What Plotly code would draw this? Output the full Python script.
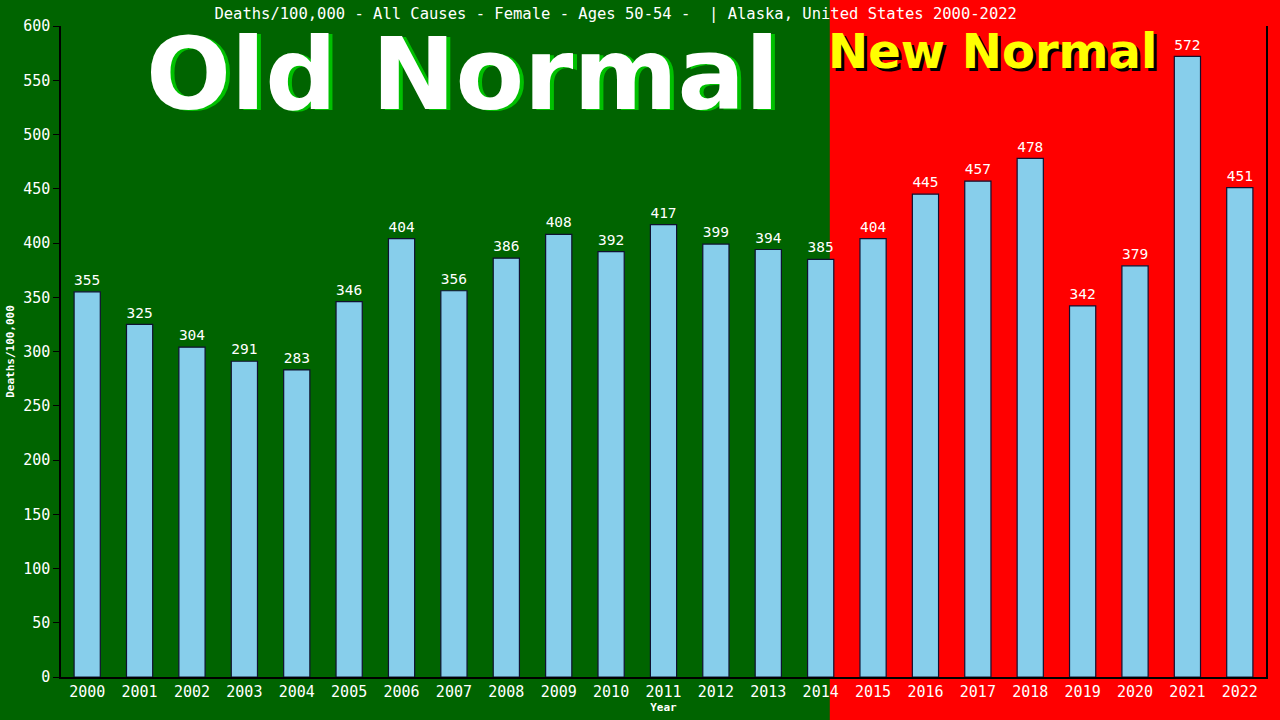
import plotly.graph_objects as go

years = [str(y) for y in range(2000, 2023)]
deaths = [355, 325, 304, 291, 283, 346, 404, 356, 386, 408, 392, 417,
          399, 394, 385, 404, 445, 457, 478, 342, 379, 572, 451]
title_text = "Deaths/100,000 - All Causes - Female - Ages 50-54 -  | Alaska, United States 2000-2022"
y_ticks = list(range(0, 601, 50))

mono = "DejaVu Sans Mono"

fig = go.Figure()
fig.add_trace(go.Bar(
    x=years, y=deaths,
    marker=dict(color="#87CEEB", line=dict(color="#101030", width=1.2)),
    text=[str(v) for v in deaths],
    textposition="outside",
    textfont=dict(family=mono, size=15, color="white"),
    cliponaxis=False,
))

# red "new normal" background from 2014 onward
fig.add_shape(type="rect", xref="paper", yref="paper",
              x0=0.638, x1=1.02, y0=-0.1, y1=1.1,
              fillcolor="#FF0000", line=dict(width=0), layer="below")

# big labels with shadows
big = dict(xref="paper", yref="paper", showarrow=False, xanchor="center", yanchor="middle")
fig.add_annotation(text="Old Normal", x=0.333, y=0.925, xshift=4, yshift=-1,
                   font=dict(family="DejaVu Sans", size=100, color="#00C000", weight="bold"), **big)
fig.add_annotation(text="Old Normal", x=0.333, y=0.925,
                   font=dict(family="DejaVu Sans", size=100, color="white", weight="bold"), **big)
fig.add_annotation(text="New Normal", x=0.7734, y=0.962, xshift=3, yshift=-3,
                   font=dict(family="DejaVu Sans", size=48, color="black", weight="bold"), **big)
fig.add_annotation(text="New Normal", x=0.7734, y=0.962,
                   font=dict(family="DejaVu Sans", size=48, color="#FFFF00", weight="bold"), **big)

fig.update_layout(
    width=1280, height=720,
    margin=dict(l=61, r=14, t=26, b=43),
    paper_bgcolor="#006400",
    plot_bgcolor="rgba(0,0,0,0)",
    bargap=0.5,
    showlegend=False,
    title=dict(text=title_text, x=0.481, xanchor="center", y=0.981, yanchor="middle",
               font=dict(family=mono, size=15.5, color="white")),
    font=dict(family=mono, size=15, color="white"),
)
fig.update_xaxes(
    showline=True, linecolor="black", linewidth=1.5, showgrid=False, ticks="",
    automargin=False,
    tickfont=dict(family=mono, size=15, color="white"),
    title=dict(text="Year", font=dict(family=mono, size=11, color="white", weight="bold"), standoff=4),
)
fig.update_yaxes(
    range=[0, 600], tickvals=y_ticks, showgrid=False, zeroline=False,
    showline=True, linecolor="black", linewidth=1.5, mirror=True,
    ticks="outside", ticklen=6, tickcolor="black", automargin=False,
    tickfont=dict(family=mono, size=15, color="white"),
    title=dict(text="Deaths/100,000", font=dict(family=mono, size=11, color="white", weight="bold"), standoff=6),
)

fig.write_html("out.html", config={"displayModeBar": False},
               post_script="document.body.style.margin='0';")
